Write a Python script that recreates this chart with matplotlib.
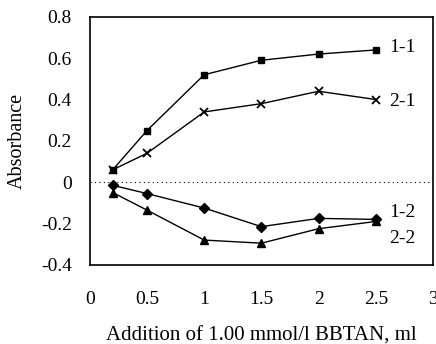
import matplotlib
matplotlib.use("Agg")
import matplotlib.pyplot as plt

plt.rcParams['font.family'] = ['Liberation Serif', 'DejaVu Serif']

x = [0.2, 0.5, 1.0, 1.5, 2.0, 2.5]
s11 = [0.06, 0.25, 0.52, 0.59, 0.62, 0.64]
s21 = [0.06, 0.14, 0.34, 0.38, 0.44, 0.40]
s12 = [-0.015, -0.055, -0.125, -0.215, -0.175, -0.18]
s22 = [-0.05, -0.135, -0.28, -0.295, -0.225, -0.19]
labels = ["1-1", "2-1", "1-2", "2-2"]
xticks = [0, 0.5, 1, 1.5, 2, 2.5, 3]
yticks = [-0.4, -0.2, 0, 0.2, 0.4, 0.6, 0.8]

fig = plt.figure(figsize=(4.36, 3.44), dpi=100)
ax = fig.add_axes([0.206, 0.230, 0.787, 0.721])

ax.axhline(0, color='black', linestyle=(0, (1, 3)), linewidth=0.8)
ax.plot(x, s11, color='black', marker='s', markersize=5, linewidth=1)
ax.plot(x, s21, color='black', marker='x', markersize=6, markeredgewidth=1.3, linewidth=1)
ax.plot(x, s12, color='black', marker='D', markersize=5, linewidth=1)
ax.plot(x, s22, color='black', marker='^', markersize=6, linewidth=1)

ax.text(2.62, 0.65, labels[0], fontsize=14, va='center')
ax.text(2.62, 0.39, labels[1], fontsize=14, va='center')
ax.text(2.62, -0.145, labels[2], fontsize=14, va='center')
ax.text(2.62, -0.27, labels[3], fontsize=14, va='center')

ax.set_xlim(0, 3)
ax.set_ylim(-0.4, 0.8)
ax.set_xticks(xticks)
ax.set_xticklabels(["0", "0.5", "1", "1.5", "2", "2.5", "3"])
ax.set_yticks(yticks)
ax.set_yticklabels(["-0.4", "-0.2", "0", "0.2", "0.4", "0.6", "0.8"])
ax.tick_params(axis='both', length=0, labelsize=14)
ax.tick_params(axis='y', pad=13)
ax.tick_params(axis='x', pad=19)
for sp in ax.spines.values():
    sp.set_linewidth(1.2)

ax.set_xlabel("Addition of 1.00 mmol/l BBTAN, ml", fontsize=15, labelpad=13)
ax.set_ylabel("Absorbance", fontsize=14.5, labelpad=10)

fig.savefig("out.png", dpi=100)
